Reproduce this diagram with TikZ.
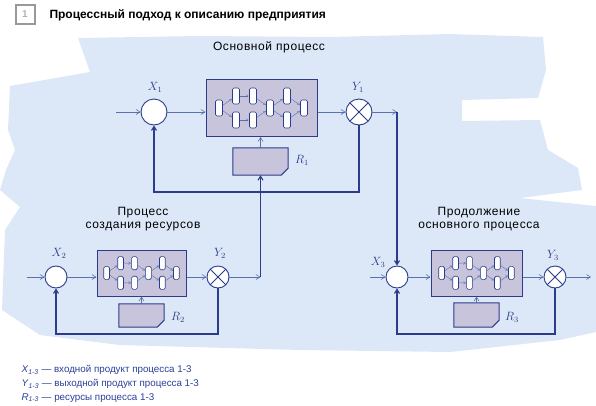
\documentclass[tikz,border=0pt]{standalone}
\usepackage{fontspec}
\setmainfont{Liberation Sans}
\usetikzlibrary{arrows.meta}
\definecolor{inkblue}{HTML}{2B3D8A}
\definecolor{flowblue}{HTML}{5B70AE}
\definecolor{paperblue}{HTML}{DCE8F7}
\definecolor{boxgray}{HTML}{C8C4DC}
\definecolor{legendblue}{HTML}{2A3F9A}
\tikzset{
    >={Straight Barb[length=4pt, width=5pt]},
    inlet/.style={circle, draw=inkblue, fill=white, line width=0.9pt, minimum size=22pt, inner sep=0pt}, % входной узел
    outlet/.style={inlet, path picture={\draw[inkblue, line width=0.8pt]
        (path picture bounding box.north west) -- (path picture bounding box.south east)
        (path picture bounding box.north east) -- (path picture bounding box.south west);}}, % выходной узел
    process/.style={rectangle, draw=inkblue, fill=boxgray, line width=1pt, inner sep=0pt}, % блок процесса
    resource/.style={rectangle, inner sep=0pt}, % ресурсы (контур рисуется отдельно)
    resource edge/.style={draw=inkblue, fill=boxgray, line width=1pt},
    pill/.style={rectangle, rounded corners=1.5pt, draw=inkblue, fill=white, line width=0.6pt,
        minimum width=7pt, minimum height=16pt, inner sep=0pt}, % операция
    pill link/.style={draw=flowblue, line width=0.4pt, -{Straight Barb[length=2pt, width=2.5pt]}, shorten >=0.5pt},
    flow/.style={draw=flowblue, line width=0.6pt}, % поток
    loop/.style={draw=inkblue, line width=1.1pt}, % обратная связь
    tag/.style={text=inkblue, font=\large}, % подписи X, Y, R
    heading/.style={align=center, font=\fontsize{12}{13.5}\selectfont\addfontfeatures{LetterSpace=5}}, % заголовки
    legend/.style={anchor=west, text=legendblue, font=\fontsize{9.8}{11}\selectfont},
    flowchart/.pic={
        \foreach \n/\i/\j in {a/0/0, b/1/-1, c/1/1, d/2/-1, e/2/1, f/3/0, g/4/-1, h/4/1, k/5/0}
            {\node[pill] (-\n) at (\i*17-42.5, \j*12) {};}
        \foreach \s/\t in {a/b, a/c, b/d, c/e, d/f, e/f, f/g, f/h, g/k, h/k}
            {\draw[pill link] (-\s) -- (-\t);}
    }
}

\begin{document}
\begin{tikzpicture}[x=1pt, y=-1pt]
    \useasboundingbox (0,0) rectangle (596,405);

    % фон
    \fill[paperblue] (78,38) -- (200,36) -- (330,37) -- (450,34) -- (543,37) -- (546,70) -- (538,98)
        -- (462,100) -- (462,121) -- (540,120) -- (548,150) -- (578,168) -- (582,190) -- (520,198)
        -- (596,206) -- (596,332) -- (560,340) -- (450,352) -- (300,350) -- (120,345) -- (40,335)
        -- (2,310) -- (5,230) -- (20,207) -- (0,190) -- (6,170) -- (15,150) -- (8,130) -- (10,86)
        -- (90,72) -- cycle;

    % заголовок
    \node[draw=gray!80, line width=2pt, minimum size=19pt, inner sep=0pt, text=gray!60, font=\bfseries] (num) at (25,14) {1};
    \node[anchor=west, font=\bfseries\fontsize{12}{14}\selectfont] (title) at (46,15) {Процессный подход к описанию предприятия};

    \node[heading] (h1) at (269,47) {Основной процесс};
    \node[heading] (h2) at (143,219) {Процесс\\создания ресурсов};
    \node[heading] (h3) at (479,219) {Продолжение\\основного процесса};

    % основной процесс
    \node[inlet, minimum size=26pt] (x1) at (154,112) {};
    \node[outlet, minimum size=26pt] (y1) at (359,112) {};
    \node[process, minimum width=111pt, minimum height=57pt] (p1) at (261.5,108) {};
    \pic (f1) at (p1.center) {flowchart};
    \node[resource, minimum width=55pt, minimum height=27pt] (r1) at (260.5,161.5) {};

    % процесс создания ресурсов
    \node[inlet] (x2) at (56,277) {};
    \node[outlet] (y2) at (218,277) {};
    \node[process, minimum width=89pt, minimum height=46pt] (p2) at (141.5,273) {};
    \pic[scale=0.82, transform shape] (f2) at (p2.center) {flowchart};
    \node[resource, minimum width=45pt, minimum height=23pt] (r2) at (141.5,315.5) {};

    % продолжение основного процесса
    \node[inlet] (x3) at (397,277) {};
    \node[outlet] (y3) at (555,277) {};
    \node[process, minimum width=91pt, minimum height=46pt] (p3) at (476.5,273) {};
    \pic[scale=0.82, transform shape] (f3) at (p3.center) {flowchart};
    \node[resource, minimum width=45pt, minimum height=24pt] (r3) at (476.5,315) {};

    % срезанный угол у блоков ресурсов
    \foreach \r in {r1,r2,r3}
        {\filldraw[resource edge] (\r.north west) -- (\r.north east) -- ([yshift=7pt]\r.south east)
            -- ([xshift=-7pt]\r.south east) -- (\r.south west) -- cycle;}

    % подписи
    \node[tag] (lx1) at (155,87) {$X_1$};
    \node[tag] (ly1) at (358,87) {$Y_1$};
    \node[tag] (lr1) at (302,160) {$R_1$};
    \node[tag] (lx2) at (59,253) {$X_2$};
    \node[tag] (ly2) at (220,253) {$Y_2$};
    \node[tag] (lr2) at (178,317) {$R_2$};
    \node[tag] (lx3) at (378,262) {$X_3$};
    \node[tag] (ly3) at (553,255) {$Y_3$};
    \node[tag] (lr3) at (512,317) {$R_3$};

    \coordinate (in1) at (116,112);
    \coordinate (in2) at (27,277);
    \coordinate (in3) at (370,277);
    \coordinate (out3) at (591,277);
    \coordinate (c1) at (x3 |- y1);
    \coordinate (c2) at (r1.south |- y2);
    \coordinate (fb1) at (154,192);
    \coordinate (fb2) at (56,334);
    \coordinate (fb3) at (397,334);

    % потоки
    \draw[flow, ->] (in1) -- (x1);
    \draw[flow, ->] (x1) -- (x1 -| p1.west);
    \draw[flow, ->] (p1.east |- y1) -- (y1);
    \draw[flow, ->] (y1) -- (c1);
    \draw[flow, ->] (r1.north) -- (r1.north |- p1.south);

    \draw[flow, ->] (in2) -- (x2);
    \draw[flow, ->] (x2) -- (x2 -| p2.west);
    \draw[flow, ->] (p2.east |- y2) -- (y2);
    \draw[flow, ->] (y2) -- (c2);
    \draw[flow, ->] (r2.north) -- (r2.north |- p2.south);

    \draw[flow, ->] (in3) -- (x3);
    \draw[flow, ->] (x3) -- (x3 -| p3.west);
    \draw[flow, ->] (p3.east |- y3) -- (y3);
    \draw[flow, ->] (y3) -- (out3);
    \draw[flow, ->] (r3.north) -- (r3.north |- p3.south);

    % обратные связи
    \draw[loop, ->] (y1) |- (fb1) -- (x1);
    \draw[loop, ->] (y2) |- (fb2) -- (x2);
    \draw[loop, ->] (y3) |- (fb3) -- (x3);
    \draw[loop, ->] (c1) -- (x3);
    \draw[loop, ->] (c2) -- (r1.south);

    % легенда
    \node[legend] (leg1) at (18,370) {\textit{X}\textsubscript{\textit{1-3}} — входной продукт процесса 1-3};
    \node[legend] (leg2) at (18,384) {\textit{Y}\textsubscript{\textit{1-3}} — выходной продукт процесса 1-3};
    \node[legend] (leg3) at (18,398) {\textit{R}\textsubscript{\textit{1-3}} — ресурсы процесса 1-3};
\end{tikzpicture}
\end{document}
